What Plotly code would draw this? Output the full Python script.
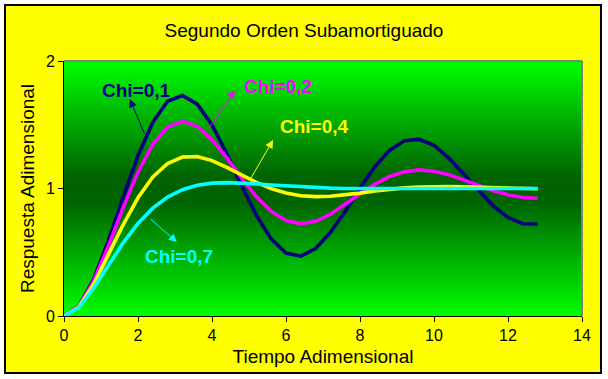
import plotly.graph_objects as go

# ---- data ----
tiempo = [0.0, 0.4, 0.8, 1.2, 1.6, 2.0, 2.4, 2.8, 3.2, 3.6, 4.0, 4.4, 4.8, 5.2, 5.6, 6.0,
          6.4, 6.8, 7.2, 7.6, 8.0, 8.4, 8.8, 9.2, 9.6, 10.0, 10.4, 10.8, 11.2, 11.6, 12.0,
          12.4, 12.8]
chi_01 = [0.0, 0.077, 0.288, 0.591, 0.932, 1.258, 1.519, 1.684, 1.729, 1.661, 1.498, 1.273,
          1.023, 0.789, 0.605, 0.494, 0.469, 0.529, 0.655, 0.820, 1.003, 1.170, 1.299, 1.374,
          1.385, 1.338, 1.239, 1.116, 0.984, 0.864, 0.774, 0.724, 0.721]
chi_02 = [0.0, 0.075, 0.274, 0.549, 0.850, 1.128, 1.346, 1.482, 1.527, 1.488, 1.383, 1.240,
          1.082, 0.935, 0.820, 0.748, 0.723, 0.742, 0.798, 0.873, 0.956, 1.033, 1.094, 1.132,
          1.146, 1.136, 1.108, 1.068, 1.024, 0.983, 0.951, 0.930, 0.923]
chi_04 = [0.0, 0.071, 0.248, 0.479, 0.716, 0.927, 1.090, 1.196, 1.247, 1.250, 1.219, 1.166,
          1.106, 1.048, 0.999, 0.964, 0.943, 0.936, 0.939, 0.950, 0.964, 0.980, 0.994, 1.005,
          1.012, 1.016, 1.016, 1.014, 1.011, 1.007, 1.004, 1.000, 0.998]
chi_07 = [0.0, 0.066, 0.217, 0.398, 0.574, 0.726, 0.846, 0.933, 0.991, 1.025, 1.042, 1.046,
          1.043, 1.036, 1.028, 1.020, 1.013, 1.007, 1.003, 1.000, 0.999, 0.999, 0.999, 0.999,
          0.999, 1.000, 1.000, 1.000, 1.000, 1.000, 1.000, 1.000, 1.000]

series_names = ["Chi=0,1", "Chi=0,2", "Chi=0,4", "Chi=0,7"]
series_values = [chi_01, chi_02, chi_04, chi_07]
series_colors = ["#000080", "#ff00ff", "#ffff00", "#00ffff"]

# label positions (data coords): text centre, arrow head, arrow tail
label_text_pos = [(1.97, 1.765), (5.78, 1.80), (6.76, 1.49), (3.11, 0.47)]
arrow_head = [(1.78, 1.70), (4.62, 1.77), (5.65, 1.38), (3.05, 0.58)]
arrow_tail = [(2.19, 1.42), (3.89, 1.46), (5.03, 1.07), (2.30, 0.77)]

x_ticks = [0, 2, 4, 6, 8, 10, 12, 14]
y_ticks = [0, 1, 2]

# ---- figure ----
fig = go.Figure()

# gradient plot background (bright - dark - bright green)
grad_y = [i * 0.02 for i in range(101)]
fig.add_trace(go.Heatmap(
    x=[0, 14], y=grad_y, z=[[abs(v - 1.0), abs(v - 1.0)] for v in grad_y],
    colorscale=[[0, "#006000"], [0.12, "#006600"], [1, "#00ff00"]],
    zmin=0, zmax=1, showscale=False, hoverinfo="skip", zsmooth="best",
))

for name, vals, col in zip(series_names, series_values, series_colors):
    fig.add_trace(go.Scatter(x=tiempo, y=vals, mode="lines", name=name,
                             line=dict(color=col, width=3.6), showlegend=False))

for name, col, tp, hd, tl in zip(series_names, series_colors, label_text_pos, arrow_head, arrow_tail):
    fig.add_annotation(x=hd[0], y=hd[1], ax=tl[0], ay=tl[1], xref="x", yref="y",
                       axref="x", ayref="y", text="", showarrow=True, arrowhead=2,
                       arrowsize=1.6, arrowwidth=1, arrowcolor=col)
    fig.add_annotation(x=tp[0], y=tp[1], xref="x", yref="y", text="<b>%s</b>" % name,
                       showarrow=False, font=dict(family="Arial, Liberation Sans", size=19, color=col))

# outer yellow frame with black border
fig.add_shape(type="rect", xref="paper", yref="paper",
              x0=(5 - 64) / 518, x1=(601 - 64) / 518,
              y0=(316 - 373) / 255, y1=(316 - 5) / 255,
              fillcolor="#ffff00", line=dict(color="black", width=2), layer="below")
# grey top/right border of plot area
fig.add_shape(type="line", xref="paper", yref="paper", x0=0, x1=1, y0=1, y1=1,
              line=dict(color="#808080", width=2))
fig.add_shape(type="line", xref="paper", yref="paper", x0=1, x1=1, y0=0, y1=1,
              line=dict(color="#808080", width=2))

fig.update_layout(
    width=608, height=379,
    margin=dict(l=64, r=26, t=61, b=63, autoexpand=False),
    paper_bgcolor="white", plot_bgcolor="#00ff00",
    font=dict(family="Arial, Liberation Sans", size=16, color="black"),
    title=dict(text="Segundo Orden Subamortiguado", x=0.5, xref="container",
               y=1 - 30 / 379, yref="container", yanchor="middle", xanchor="center",
               font=dict(size=19, color="black")),
    showlegend=False,
)
fig.update_xaxes(range=[0, 14], tickvals=x_ticks, ticktext=[str(v) for v in x_ticks],
                 showline=True, linecolor="black", linewidth=1, ticks="outside",
                 ticklen=5, tickcolor="black", showgrid=False, zeroline=False,
                 automargin=False,
                 title=dict(text="Tiempo Adimensional", standoff=6))
fig.update_yaxes(range=[0, 2], tickvals=y_ticks, ticktext=[str(v) for v in y_ticks],
                 showline=True, linecolor="black", linewidth=1, ticks="outside",
                 ticklen=5, tickcolor="black", showgrid=True, gridcolor="black",
                 gridwidth=1, zeroline=False, automargin=False,
                 title=dict(text="Respuesta Adimensional", standoff=6))

fig.write_html("out.html", config={"displayModeBar": False},
               post_script="document.body.style.margin='0';")
